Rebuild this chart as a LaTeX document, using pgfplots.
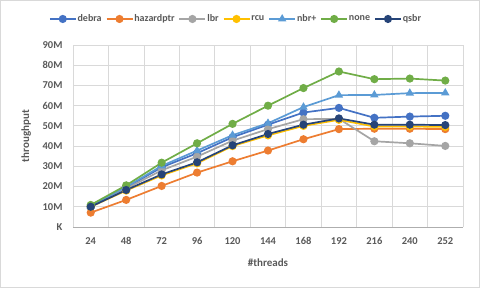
\documentclass[border=0pt]{standalone}
\usepackage{pgfplots}
\pgfplotsset{compat=1.18}
\usepackage{fontspec}
\setmainfont{Carlito}
\definecolor{cdebra}{HTML}{4472C4}
\definecolor{chaz}{HTML}{ED7D31}
\definecolor{clbr}{HTML}{A5A5A5}
\definecolor{crcu}{HTML}{FFC000}
\definecolor{cnbr}{HTML}{5B9BD5}
\definecolor{cnone}{HTML}{70AD47}
\definecolor{cqsbr}{HTML}{264478}
\definecolor{gridc}{HTML}{D9D9D9}
\definecolor{txt}{HTML}{595959}
\begin{document}
\begin{tikzpicture}[x=1pt,y=1pt]
\draw[color=gridc, line width=0.8pt] (0.5,0.5) rectangle (479.5,287.5);
\begin{axis}[
  at={(73pt,61pt)}, anchor=south west,
  scale only axis, width=390pt, height=182pt,
  xmin=-0.5, xmax=10.5, ymin=0, ymax=90,
  xtick={0,...,10},
  xticklabels={24,48,72,96,120,144,168,192,216,240,252},
  minor xtick={-0.5,0.5,...,10.5},
  ytick={0,10,...,90},
  yticklabels={K,10M,20M,30M,40M,50M,60M,70M,80M,90M},
  major tick length=0pt, minor tick length=0pt,
  xmajorgrids=false, xminorgrids=true, ymajorgrids=true,
  grid style={gridc, line width=0.8pt},
  minor grid style={gridc, line width=0.8pt},
  axis line style={draw=none},
  axis x line*=bottom, axis y line*=left,
  tick label style={font=\fontsize{10.5}{12}\selectfont\bfseries, text=txt},
  xticklabel style={yshift=-7pt},
  yticklabel style={xshift=-7pt},
  xlabel={\#threads}, ylabel={throughput},
  label style={font=\fontsize{11}{13}\selectfont\bfseries, text=txt},
  xlabel style={at={(axis description cs:0.5,-0.195)}, anchor=center},
  ylabel style={at={(axis description cs:-0.12,0.5)}, anchor=center, rotate=0},
  every axis plot/.append style={line width=1.7pt, mark size=3.2pt},
  legend columns=7,
  legend style={at={(0.418,1.143)}, anchor=center, draw=none, fill=none,
    font=\fontsize{10}{12}\selectfont\bfseries, text=txt,
    /tikz/every even column/.append style={column sep=2pt},
    /tikz/every odd column/.append style={column sep=-1pt}},
  legend image code/.code={
    \draw[#1, mark repeat=2, mark phase=2] plot coordinates {(0pt,0pt) (13pt,0pt) (26pt,0pt)};
  },
  clip=false,
]
\draw[color=gridc!80!black, line width=0.8pt] (axis cs:-0.5,0) -- (axis cs:10.5,0);
\addplot[color=cdebra, mark=*] coordinates {(0,10.0) (1,19.5) (2,29.5) (3,36.5) (4,44.4) (5,50.6) (6,56.6) (7,58.9) (8,54.0) (9,54.6) (10,55.0)};
\addlegendentry{debra}
\addplot[color=chaz, mark=*] coordinates {(0,7.1) (1,13.4) (2,20.3) (3,26.9) (4,32.5) (5,37.8) (6,43.4) (7,48.4) (8,48.6) (9,48.6) (10,48.4)};
\addlegendentry{hazardptr}
\addplot[color=clbr, mark=*] coordinates {(0,10.2) (1,19.0) (2,28.0) (3,34.8) (4,42.7) (5,48.4) (6,53.3) (7,53.5) (8,42.4) (9,41.4) (10,40.1)};
\addlegendentry{lbr}
\addplot[color=crcu, mark=*] coordinates {(0,10.0) (1,18.0) (2,25.5) (3,31.5) (4,40.0) (5,45.3) (6,50.0) (7,53.0) (8,49.7) (9,49.7) (10,49.5)};
\addlegendentry{rcu}
\addplot[color=cnbr, mark=triangle*] coordinates {(0,10.3) (1,19.8) (2,30.2) (3,37.8) (4,45.4) (5,51.3) (6,59.3) (7,65.2) (8,65.3) (9,66.2) (10,66.3)};
\addlegendentry{nbr+}
\addplot[color=cnone, mark=*] coordinates {(0,10.9) (1,20.6) (2,31.8) (3,41.4) (4,51.0) (5,60.0) (6,68.7) (7,76.9) (8,73.1) (9,73.4) (10,72.4)};
\addlegendentry{none}
\addplot[color=cqsbr, mark=*] coordinates {(0,10.0) (1,18.3) (2,26.0) (3,32.0) (4,40.4) (5,46.0) (6,50.6) (7,53.7) (8,50.6) (9,50.6) (10,50.4)};
\addlegendentry{qsbr}
\end{axis}
\pgfresetboundingbox
\useasboundingbox (0,0) rectangle (480,288);
\end{tikzpicture}
\end{document}
